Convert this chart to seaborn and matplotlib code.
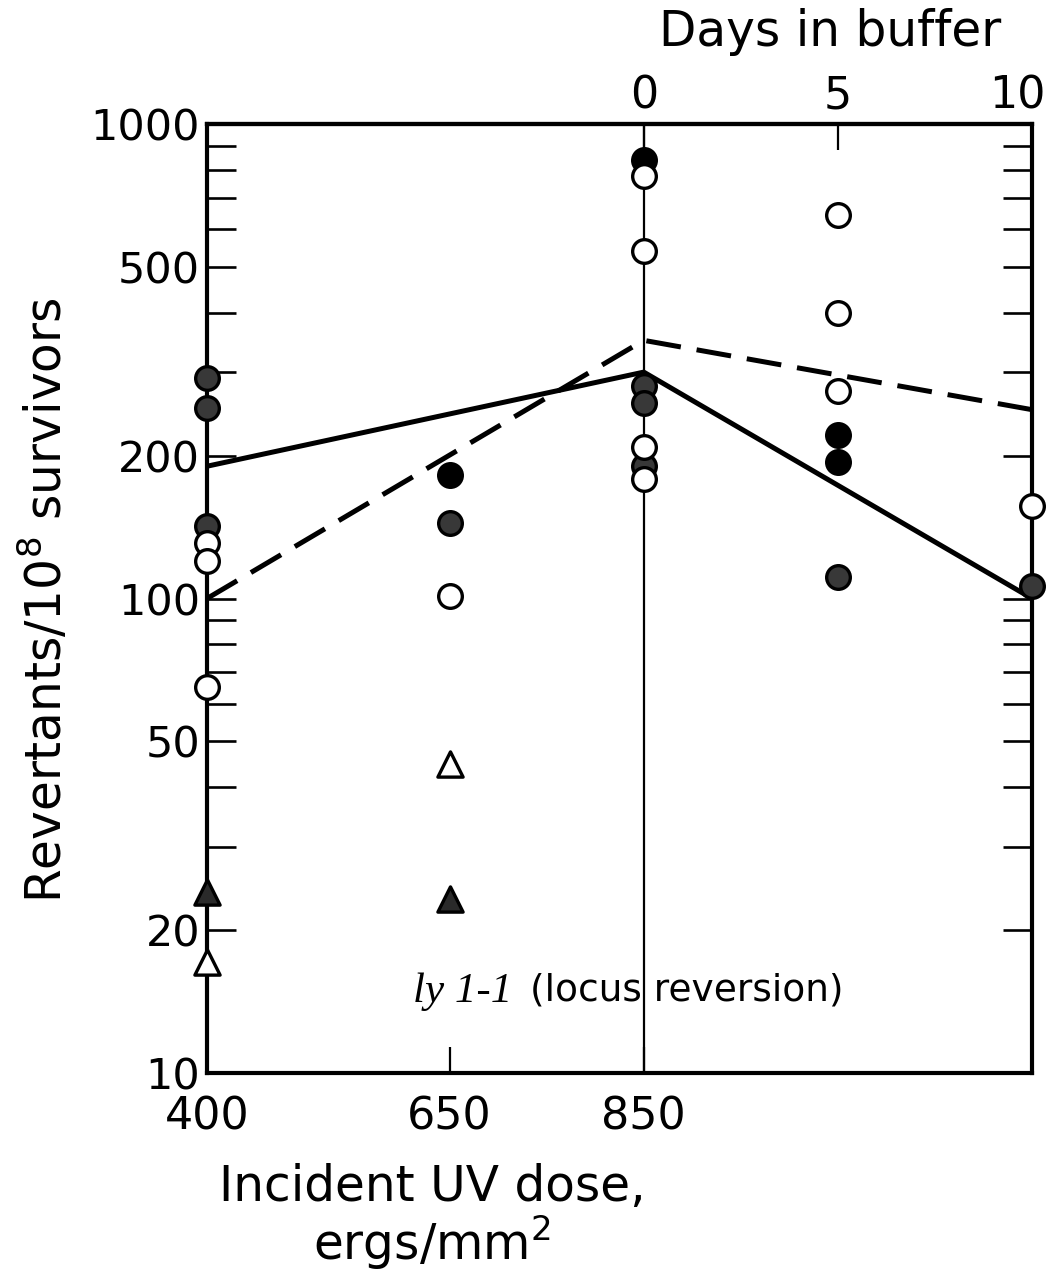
import matplotlib
matplotlib.use("Agg")
import matplotlib.pyplot as plt
import matplotlib.transforms as mtransforms
import seaborn as sns
import pandas as pd

# ---- data ----
# x conditions: UV dose (400, 650, 850) then days in buffer after 850 (0, 5, 10)
cond_pos = {"400": 400, "650": 650, "0": 850, "5": 1050, "10": 1250}

open_cond = ["400", "400", "400", "650", "0", "0", "0", "0", "5", "5", "5", "10"]
open_vals = [131, 120, 65, 101, 777, 540, 209, 179, 643, 399, 274, 157]

solid_cond = ["650", "0", "5", "5"]
solid_vals = [182, 840, 221, 194]

stip_cond = ["400", "400", "400", "650", "0", "0", "0", "5", "10"]
stip_vals = [291, 252, 142, 144, 281, 258, 190, 111, 106]

tri_open_cond = ["400", "650"]
tri_open_vals = [17.1, 44.9]
tri_fill_cond = ["400", "650"]
tri_fill_vals = [24.1, 23.3]

line_cond = ["400", "0", "10"]
solid_line_vals = [190, 300, 100]
dashed_line_vals = [100, 350, 250]

dose_ticks = [400, 650, 850]
day_ticks = [0, 5, 10]
y_ticks = [10, 20, 30, 40, 50, 60, 70, 80, 90, 100, 200, 300, 400, 500, 600, 700, 800, 900, 1000]
y_labeled = [10, 20, 50, 100, 200, 500, 1000]


def frame(conds, vals):
    return pd.DataFrame({"x": [cond_pos[c] for c in conds], "y": vals})


sns.set_style("white")
plt.rcParams["font.family"] = ["DejaVu Sans"]
for k in ["text.color", "axes.labelcolor", "xtick.color", "ytick.color", "axes.edgecolor"]:
    plt.rcParams[k] = "black"

fig = plt.figure(figsize=(10.47, 12.72), dpi=100)
ax = fig.add_axes([207 / 1047, 1 - 1073 / 1272, (1032 - 207) / 1047, (1073 - 124) / 1272])
ax.set_yscale("log")

# vertical line at 850 / day 0
ax.axvline(850, color="black", lw=1.6, zorder=1)

lw = 3.6
sns.lineplot(data=frame(line_cond, solid_line_vals), x="x", y="y", sort=False,
             color="black", lw=lw, ax=ax, zorder=2)
sns.lineplot(data=frame(line_cond, dashed_line_vals), x="x", y="y", sort=False,
             color="black", lw=lw, ax=ax, zorder=2, dashes=False,
             linestyle=(0, (7, 3.2)))

ms = 290
ew = 2.4
sns.scatterplot(data=frame(stip_cond, stip_vals), x="x", y="y", ax=ax, s=ms,
                color="#383838", edgecolor="black", linewidth=ew, zorder=4, clip_on=False)
sns.scatterplot(data=frame(solid_cond, solid_vals), x="x", y="y", ax=ax, s=ms,
                color="black", edgecolor="black", linewidth=ew, zorder=4, clip_on=False)
sns.scatterplot(data=frame(open_cond, open_vals), x="x", y="y", ax=ax, s=ms,
                color="white", edgecolor="black", linewidth=ew, zorder=5, clip_on=False)
sns.scatterplot(data=frame(tri_open_cond, tri_open_vals), x="x", y="y", ax=ax, s=330,
                marker="^", color="white", edgecolor="black", linewidth=ew, zorder=5, clip_on=False)
sns.scatterplot(data=frame(tri_fill_cond, tri_fill_vals), x="x", y="y", ax=ax, s=330,
                marker="^", color="#2a2a2a", edgecolor="black", linewidth=ew, zorder=5, clip_on=False)

ax.set_xlim(400, 1250)
ax.set_ylim(10, 1000)

# y ticks
ax.set_yticks(y_ticks)
ax.set_yticklabels([str(t) if t in y_labeled else "" for t in y_ticks])
ax.yaxis.set_minor_locator(matplotlib.ticker.NullLocator())
ax.tick_params(axis="y", which="major", direction="in", length=21, width=1.9,
               left=True, right=True, labelsize=31, pad=5)

# x ticks (bottom: dose)
ax.set_xticks(dose_ticks)
ax.set_xticklabels([str(t) for t in dose_ticks])
ax.xaxis.set_minor_locator(matplotlib.ticker.NullLocator())
ax.tick_params(axis="x", which="major", direction="in", length=19, width=1.6,
               bottom=True, top=False, labelsize=32, pad=16)

# top axis: days in buffer
sec = ax.secondary_xaxis("top", functions=(lambda x: (x - 850) / 40.0, lambda d: 850 + 40.0 * d))
sec.set_xticks(day_ticks)
sec.set_xticklabels([str(d) for d in day_ticks])
sec.tick_params(direction="in", length=19, width=1.6, labelsize=32, pad=5)
sec.spines["top"].set_linewidth(3)
last = sec.get_xticklabels()[-1]
last.set_transform(last.get_transform() + mtransforms.ScaledTranslation(-0.15, 0, fig.dpi_scale_trans))

for sp in ax.spines.values():
    sp.set_linewidth(3)
    sp.set_color("black")

ax.set_xlabel("")
ax.set_ylabel("")

fig.text(45 / 1047, 1 - 600 / 1272, "Revertants/10$^8$ survivors", rotation=90,
         ha="center", va="center", fontsize=35)
fig.text(830 / 1047, 1 - 32 / 1272, "Days in buffer", ha="center", va="center", fontsize=35)
fig.text(432 / 1047, 1 - 1187 / 1272, "Incident UV dose,", ha="center", va="center", fontsize=35)
fig.text(432 / 1047, 1 - 1243 / 1272, "ergs/mm$^2$", ha="center", va="center", fontsize=35)

fig.text(413 / 1047, 1 - 992 / 1272, "ly 1-1", ha="left", va="center", fontsize=31,
         family="Liberation Serif", style="italic")
fig.text(530 / 1047, 1 - 990 / 1272, "(locus reversion)", ha="left", va="center", fontsize=27)

fig.savefig("out.png", dpi=100)
